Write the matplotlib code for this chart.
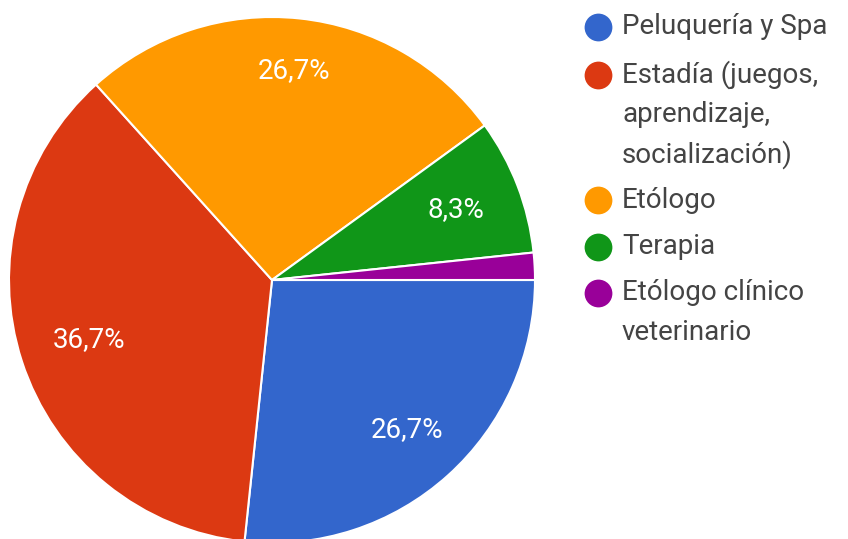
import matplotlib
matplotlib.use("Agg")
import matplotlib.pyplot as plt
import numpy as np

plt.rcParams['font.family'] = ['Roboto', 'DejaVu Sans']

# data
categories = ['Peluquería y Spa', 'Estadía (juegos,\naprendizaje,\nsocialización)',
              'Etólogo', 'Terapia', 'Etólogo clínico\nveterinario']
counts = [16, 22, 16, 5, 1]
colors = ['#3366CC', '#DC3912', '#FF9900', '#109618', '#990099']

W, H = 848, 539
fig = plt.figure(figsize=(W / 100, H / 100), dpi=100)
ax = fig.add_axes([0, 0, 1, 1])


def pct_label(p):
    if p < 5:
        return ''
    return f'{p:.1f}%'.replace('.', ',')


center = (272, H - 280)
radius = 263
wedges, texts, autotexts = ax.pie(
    counts, colors=colors, startangle=0, counterclock=False,
    center=center, radius=radius,
    autopct=pct_label, pctdistance=0.77,
    wedgeprops=dict(edgecolor='white', linewidth=1.5),
    textprops=dict(color='white', fontsize=20),
)

# nudge each label along its wedge's mid-angle
label_dist = [0.765, 0.73, 0.80, 0.75, 0.77]
for w, t, d in zip(wedges, autotexts, label_dist):
    mid = np.deg2rad((w.theta1 + w.theta2) / 2)
    t.set_position((center[0] + d * radius * np.cos(mid),
                    center[1] + d * radius * np.sin(mid)))

ax.set_xlim(0, W)
ax.set_ylim(0, H)
ax.set_aspect('equal')
ax.axis('off')

# legend drawn by hand so the marker sits on the first line
legend_y = [27, 75, 200, 247, 293]
line_h = 40
for cat, col, y in zip(categories, colors, legend_y):
    ax.plot(598, H - y, marker='o', markersize=20, color=col,
            markeredgewidth=0, clip_on=False)
    for i, line in enumerate(cat.split('\n')):
        ax.text(622, H - y - i * line_h, line, va='center', ha='left',
                fontsize=20, color='#444444')

fig.savefig('out.png', dpi=100)
